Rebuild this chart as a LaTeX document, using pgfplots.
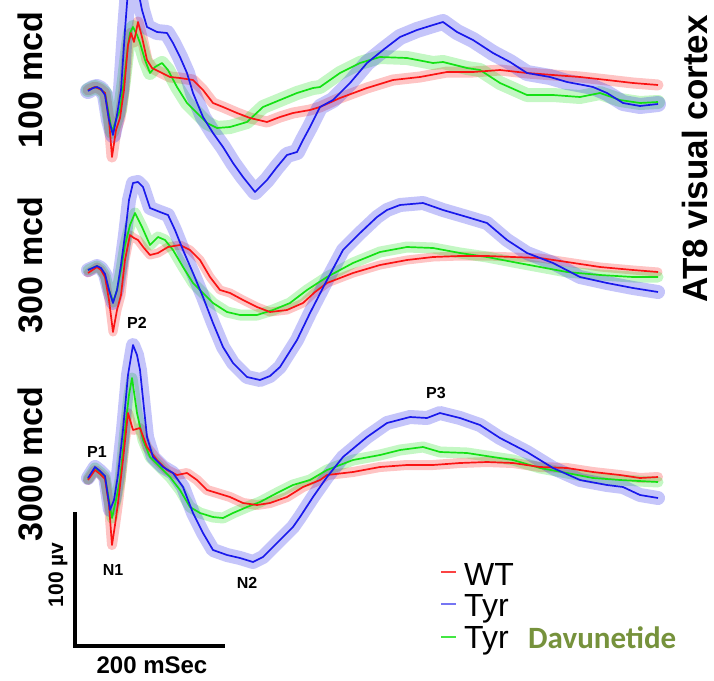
\documentclass[border=0pt]{standalone}
\usepackage{pgfplots}
\pgfplotsset{compat=1.18}
\usepackage{pgfplotstable}
\usepackage{fontspec}
\setmainfont{Liberation Sans}
\newfontfamily\calfont{Carlito}
\definecolor{wt}{RGB}{250,20,20}
\definecolor{tyr}{RGB}{25,25,235}
\definecolor{dav}{RGB}{20,225,20}
\definecolor{olive}{RGB}{118,146,60}

% pixel-like units: x to the right, y downwards
\pgfplotstableread{
x y
88 90
95 87
100 89
105 93
109 120
112 157
116 130
120 118
124 90
128 45
131 33
134 42
138 22
142 37
147 60
152 68
160 72
170 77
180 78
193 80
203 90
213 103
223 107
237 113
250 118
267 122
280 117
293 113
310 110
320 107
340 98
367 88
393 80
420 77
447 72
473 72
500 70
527 73
553 75
580 77
607 80
633 83
658 85
}\aRed
\pgfplotstableread{
x y
88 90
95 87
100 89
105 93
109 115
112 132
116 120
120 110
124 80
128 45
130 33
133 27
137 35
140 43
145 60
150 73
155 67
162 63
168 70
177 87
187 103
197 113
207 123
217 128
230 127
247 122
263 107
280 100
297 93
313 88
320 87
340 73
360 63
380 57
407 58
433 63
443 62
467 68
480 70
500 83
527 95
553 95
580 97
600 93
620 100
640 103
658 102
}\aGreen
\pgfplotstableread{
x y
88 91
93 88
97 87
101 89
105 95
109 120
113 135
117 115
121 90
125 30
128 -10
133 -20
138 -10
142 10
147 27
157 32
167 33
173 43
180 57
187 73
193 93
203 117
213 133
223 147
233 163
243 177
255 192
267 180
277 167
287 155
297 152
303 140
310 127
320 107
333 100
350 83
367 63
383 50
400 37
417 30
433 25
443 22
457 32
473 40
493 53
510 62
527 73
550 77
567 82
583 85
593 87
607 93
623 103
640 106
658 104
}\aBlue
\pgfplotstableread{
x y
88 273
97 267
101 270
105 277
109 300
113 332
117 310
121 295
125 260
130 235
134 238
138 240
144 248
150 255
158 253
168 247
180 245
190 250
200 260
210 277
220 290
230 293
243 300
257 307
270 312
287 310
303 303
315 292
327 283
353 273
380 265
407 260
433 257
460 256
487 256
513 257
540 258
567 262
600 267
633 270
658 272
}\bRed
\pgfplotstableread{
x y
88 270
97 266
101 269
105 275
109 290
113 302
117 290
121 270
125 245
130 225
135 213
142 227
150 245
158 237
165 240
173 250
183 267
193 283
203 293
213 303
227 312
240 315
257 315
273 310
290 303
307 290
327 277
353 263
380 252
407 247
433 248
460 253
487 257
513 262
540 267
567 272
600 275
633 277
658 277
}\bGreen
\pgfplotstableread{
x y
88 270
97 266
101 268
105 274
109 290
113 303
117 290
121 265
125 235
129 200
133 183
138 182
143 187
150 208
160 212
168 215
175 230
183 250
193 273
203 297
213 323
223 347
233 363
247 377
260 380
270 376
280 367
297 340
310 313
327 280
343 250
360 233
377 217
387 210
400 205
423 203
443 210
467 217
487 223
507 240
527 253
553 263
580 277
607 283
633 288
658 292
}\bBlue
\pgfplotstableread{
x y
88 480
95 470
100 474
105 479
109 505
112 545
115 525
118 503
123 460
128 413
133 430
140 428
147 447
157 460
167 470
177 475
187 473
197 480
207 490
217 493
230 497
243 503
257 505
270 503
287 497
303 487
320 480
327 475
353 472
380 467
407 465
433 465
460 463
487 462
513 463
540 467
567 468
593 472
620 475
640 478
658 477
}\cRed
\pgfplotstableread{
x y
88 479
95 468
100 472
105 477
109 500
112 518
116 500
120 480
125 430
129 395
132 378
137 413
143 440
150 457
160 467
170 477
180 490
190 507
200 513
213 517
223 518
233 513
247 507
260 502
277 493
293 485
310 480
327 470
353 460
380 455
400 450
423 447
440 452
467 453
493 457
513 460
540 468
567 473
593 478
620 480
658 482
}\cGreen
\pgfplotstableread{
x y
88 478
95 467
100 471
105 476
110 510
114 500
118 475
123 430
128 375
133 345
137 355
140 370
147 437
153 457
163 467
173 473
183 487
193 513
203 533
213 550
227 555
240 558
253 562
263 557
277 543
293 527
300 517
313 497
327 477
343 457
367 437
387 423
410 417
427 418
440 413
460 418
480 425
500 438
527 452
553 468
580 480
607 485
623 487
640 495
658 498
}\cBlue

\begin{document}
\begin{tikzpicture}
\begin{axis}[
  width=714pt, height=680pt, scale only axis,
  xmin=0, xmax=714, ymin=0, ymax=680,
  y dir=reverse, hide axis, clip mode=individual,
  band/.style={line width=#1, opacity=0.25, line join=round, line cap=round, forget plot},
  trace/.style={line width=1.7pt, line join=round, forget plot},
]
% shaded error bands
\addplot[band=11pt, wt] table {\aRed};
\addplot[band=14pt, dav] table {\aGreen};
\addplot[band=16pt, tyr] table {\aBlue};
\addplot[band=9pt, wt] table {\bRed};
\addplot[band=11pt, dav] table {\bGreen};
\addplot[band=14pt, tyr] table {\bBlue};
\addplot[band=10pt, wt] table {\cRed};
\addplot[band=11pt, dav] table {\cGreen};
\addplot[band=14pt, tyr] table {\cBlue};
% mean traces
\addplot[trace, dav] table {\aGreen};
\addplot[trace, wt] table {\aRed};
\addplot[trace, tyr] table {\aBlue};
\addplot[trace, dav] table {\bGreen};
\addplot[trace, wt] table {\bRed};
\addplot[trace, tyr] table {\bBlue};
\addplot[trace, dav] table {\cGreen};
\addplot[trace, wt] table {\cRed};
\addplot[trace, tyr] table {\cBlue};

% panel labels
\node[rotate=90, anchor=base, inner sep=0pt, font=\fontsize{34}{36}\selectfont\bfseries] at (axis cs:42,80) {100 mcd};
\node[rotate=90, anchor=base, inner sep=0pt, font=\fontsize{34}{36}\selectfont\bfseries] at (axis cs:42,265) {300 mcd};
\node[rotate=90, anchor=base, inner sep=0pt, font=\fontsize{34}{36}\selectfont\bfseries] at (axis cs:42,464) {3000 mcd};
\node[rotate=90, anchor=base, inner sep=0pt, font=\fontsize{35}{38}\selectfont\bfseries] at (axis cs:707,159) {AT8 visual cortex};

% component labels
\node[font=\fontsize{16}{18}\selectfont\bfseries] at (axis cs:97,452) {P1};
\node[font=\fontsize{16}{18}\selectfont\bfseries] at (axis cs:137,323) {P2};
\node[font=\fontsize{16}{18}\selectfont\bfseries] at (axis cs:113,570) {N1};
\node[font=\fontsize{16}{18}\selectfont\bfseries] at (axis cs:247,583) {N2};
\node[font=\fontsize{16}{18}\selectfont\bfseries] at (axis cs:436,393) {P3};

% scale bar
\draw[line width=3.5pt, line cap=rect] (axis cs:75,514) -- (axis cs:75,646) -- (axis cs:223,646);
\node[rotate=90, anchor=base, inner sep=0pt, font=\fontsize{21}{23}\selectfont\bfseries] at (axis cs:63,575) {100 µv};
\node[anchor=base, inner sep=0pt, font=\fontsize{24}{26}\selectfont\bfseries] at (axis cs:152,673) {200 mSec};

% legend
\draw[wt, line width=2pt, opacity=0.8] (axis cs:441,572) -- (axis cs:456,572);
\draw[tyr, line width=2pt, opacity=0.6] (axis cs:441,604) -- (axis cs:456,604);
\draw[dav, line width=2pt, opacity=0.8] (axis cs:441,637) -- (axis cs:456,637);
\node[anchor=base west, inner sep=0pt, font=\fontsize{32}{34}\selectfont] at (axis cs:464,585) {WT};
\node[anchor=base west, inner sep=0pt, font=\fontsize{32}{34}\selectfont] at (axis cs:464,616) {Tyr};
\node[anchor=base west, inner sep=0pt, font=\fontsize{32}{34}\selectfont] at (axis cs:464,648) {Tyr};
\node[anchor=base west, inner sep=0pt, text=olive, font=\calfont\fontsize{31}{33}\selectfont\bfseries] at (axis cs:528,648) {Davunetide};
\end{axis}
\pgfresetboundingbox
\useasboundingbox (current axis.south west) rectangle (current axis.north east);
\end{tikzpicture}
\end{document}
